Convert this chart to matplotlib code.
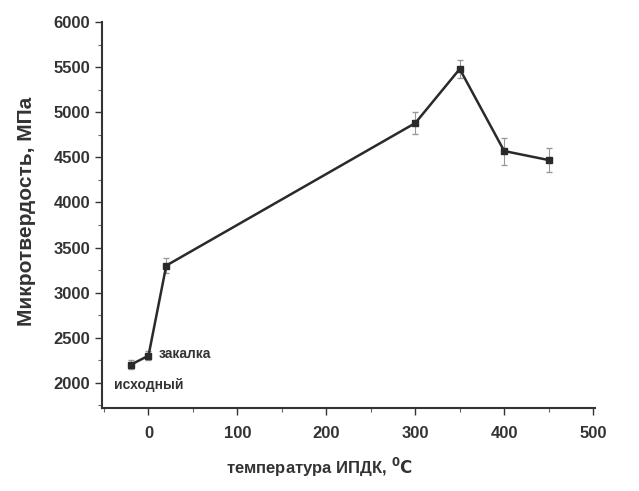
import matplotlib
matplotlib.use('Agg')
import matplotlib.pyplot as plt
from matplotlib.ticker import MultipleLocator

plt.rcParams['font.family'] = ['Liberation Sans', 'DejaVu Sans']
plt.rcParams['font.weight'] = 'bold'

# данные
temp = [-20, 0, 20, 300, 350, 400, 450]
hv = [2200, 2300, 3300, 4880, 5480, 4570, 4470]
hv_err = [50, 50, 80, 120, 100, 150, 130]
x_ticks = [0, 100, 200, 300, 400, 500]
y_ticks = [2000, 2500, 3000, 3500, 4000, 4500, 5000, 5500, 6000]

fig = plt.figure(figsize=(6.39, 4.91), dpi=100)
ax = fig.add_axes([0.16, 0.169, 0.771, 0.786])

ax.errorbar(temp, hv, yerr=hv_err, color='#2a2a2a', lw=1.8, marker='s', ms=5,
            ecolor='#999999', elinewidth=0.8, capsize=2.5)

ax.text(11, 2320, 'закалка', fontsize=10, fontweight='bold', color='#333333', va='center')
ax.text(-39, 1975, 'исходный', fontsize=10, fontweight='bold', color='#333333', va='center')

ax.set_xlim(-52, 502)
ax.set_ylim(1720, 6000)
ax.set_xticks(x_ticks)
ax.set_yticks(y_ticks)
ax.xaxis.set_minor_locator(MultipleLocator(50))
ax.yaxis.set_minor_locator(MultipleLocator(250))
ax.tick_params(direction='out', length=5, width=1, labelsize=12, colors='#333333')
ax.tick_params(axis='x', pad=8)
ax.tick_params(which='minor', direction='out', length=3, width=0.8, color='#666666')
for lab in ax.get_xticklabels() + ax.get_yticklabels():
    lab.set_fontweight('bold')

for s in ['top', 'right']:
    ax.spines[s].set_visible(False)
for s in ['left', 'bottom']:
    ax.spines[s].set_linewidth(1.5)
    ax.spines[s].set_color('#333333')

ax.set_ylabel('Микротвердость, МПа', fontsize=15, fontweight='bold', color='#333333')
ax.yaxis.set_label_coords(-0.135, 0.51)
ax.set_xlabel('температура ИПДК, $\\mathbf{^0C}$', fontsize=12, fontweight='bold', color='#333333')
ax.xaxis.set_label_coords(0.44, -0.125)

fig.savefig('out.png', dpi=100)
